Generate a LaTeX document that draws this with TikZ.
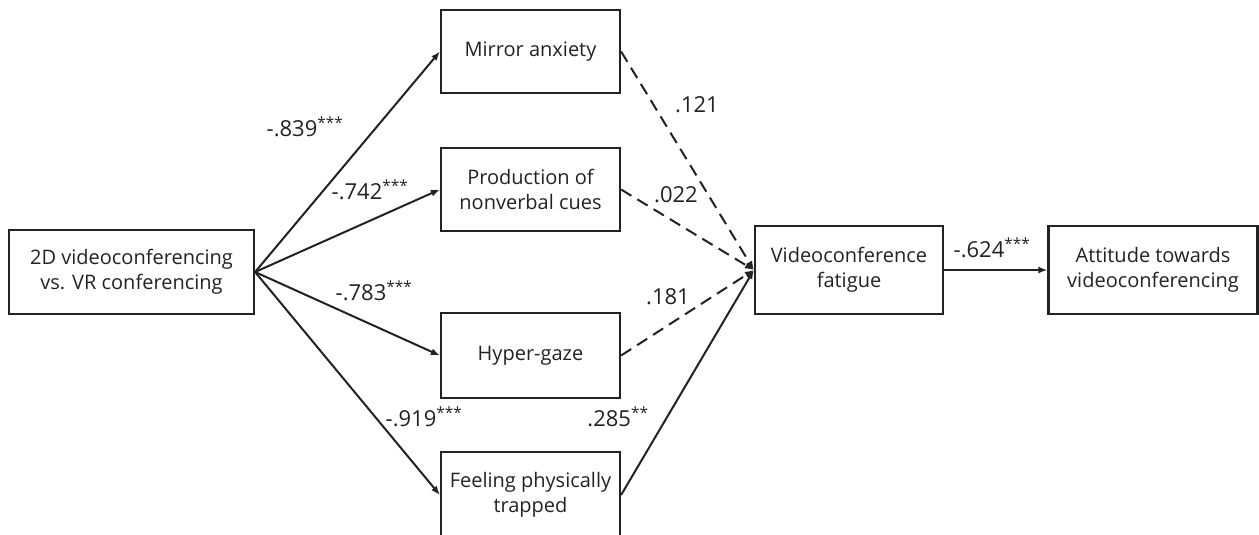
\documentclass[tikz,border=0pt]{standalone}
\usepackage{fontspec}
\setmainfont{Open Sans}
\usetikzlibrary{arrows.meta}
\definecolor{ink}{HTML}{222222}
\begin{document}
\begin{tikzpicture}[x=1pt,y=-1pt,
  box/.style={draw=ink,line width=2.2pt,text=ink,align=center,inner sep=0pt,
    font=\fontsize{20}{25}\selectfont},
  path/.style={draw=ink,line width=2pt,-{Latex[length=9pt,width=7pt]}},
  ns/.style={path,dash pattern=on 12pt off 7pt},
  lab/.style={text=ink,font=\fontsize{22}{26}\selectfont,inner sep=0pt}]
\useasboundingbox (0,0) rectangle (1259,535);
\node[box,minimum width=245pt,minimum height=84pt] (src) at (131.5,272) {2D videoconferencing\\vs. VR conferencing};
\node[box,minimum width=179pt,minimum height=83pt] (mir) at (530.5,51.5) {Mirror anxiety};
\node[box,minimum width=179pt,minimum height=83pt] (prod) at (530.5,189.5) {Production of\\nonverbal cues};
\node[box,minimum width=179pt,minimum height=85pt] (hyp) at (530.5,355.5) {Hyper-gaze};
\node[box,minimum width=179pt,minimum height=86pt] (feel) at (530.5,495) {Feeling physically\\trapped};
\node[box,minimum width=188pt,minimum height=88pt] (fat) at (849,270) {Videoconference\\fatigue};
\node[box,minimum width=209pt,minimum height=88pt] (att) at (1153,270) {Attitude towards\\videoconferencing};
\draw[path] (src.east) -- (mir.west);
\draw[path] (src.east) -- (prod.west);
\draw[path] (src.east) -- (hyp.west);
\draw[path] (src.east) -- (feel.west);
\draw[ns] (mir.east) -- (fat.west);
\draw[ns] (prod.east) -- (fat.west);
\draw[ns] (hyp.east) -- (fat.west);
\draw[path] (feel.east) -- (fat.west);
\draw[path] (fat.east) -- (att.west);
\node[lab] (l1) at (305,127) {-.839\textsuperscript{***}};
\node[lab] (l2) at (370,190) {-.742\textsuperscript{***}};
\node[lab] (l3) at (374,291) {-.783\textsuperscript{***}};
\node[lab] (l4) at (424,417) {-.919\textsuperscript{***}};
\node[lab] (l5) at (618,417) {.285\textsuperscript{**}};
\node[lab] (l6) at (697,105) {.121};
\node[lab] (l7) at (676,195) {.022};
\node[lab] (l8) at (668,297) {.181};
\node[lab] (l9) at (992,248) {-.624\textsuperscript{***}};
\end{tikzpicture}
\end{document}
